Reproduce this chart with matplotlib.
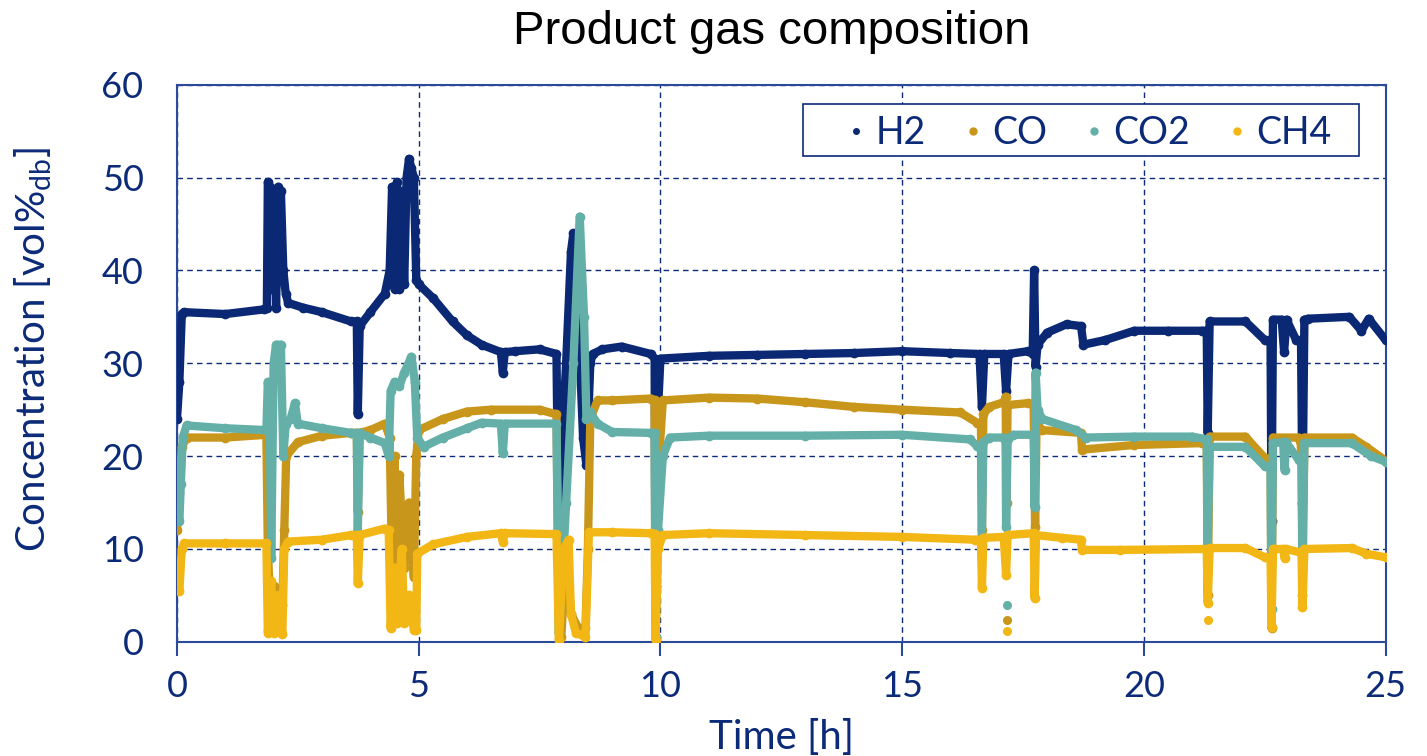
import matplotlib
matplotlib.use("Agg")
import matplotlib.pyplot as plt
from matplotlib.lines import Line2D
from matplotlib.patches import Rectangle

# ---- data (time in h, concentration in vol%db) ----
h2_t = [0.0, 0.05, 0.1, 0.15, 1.0, 1.8, 1.86, 1.88, 1.92, 1.95, 2.0, 2.05, 2.1, 2.15, 2.2, 2.25,
        2.3, 2.6, 3.0, 3.6, 3.72, 3.74, 3.78, 4.0, 4.3, 4.4, 4.45, 4.5, 4.55, 4.6, 4.65, 4.7,
        4.75, 4.8, 4.85, 4.9, 4.95, 5.0, 5.3, 5.7, 6.0, 6.3, 6.7, 6.74, 6.78, 7.0, 7.5, 7.85,
        7.9, 7.95, 8.05, 8.15, 8.2, 8.3, 8.4, 8.47, 8.55, 8.6, 8.8, 9.2, 9.8, 9.88, 9.9, 9.95,
        10.0, 11.0, 12.0, 13.0, 14.0, 15.0, 16.0, 16.6, 16.65, 16.7, 17.1, 17.15, 17.2, 17.6,
        17.7, 17.73, 17.76, 17.8, 18.0, 18.4, 18.7, 18.75, 19.2, 19.8, 20.5, 21.2, 21.3, 21.32,
        21.36, 22.1, 22.5, 22.62, 22.64, 22.67, 22.85, 22.9, 22.95, 23.15, 23.25, 23.28, 23.32,
        23.4, 24.25, 24.5, 24.65, 25.0]
h2_v = [24, 28, 35.3, 35.5, 35.3, 35.8, 36, 49.5, 49, 38, 48.5, 36, 49, 48.5, 40, 37.5,
        36.5, 36, 35.5, 34.5, 34.5, 24.5, 34, 35.5, 37.5, 40, 49, 38, 49.5, 38, 48.5, 38.5,
        50, 52, 51, 50, 39, 38.5, 37, 34.5, 33, 32, 31.2, 29, 31.2, 31.3, 31.5, 31,
        8, 20, 30, 42, 44, 35, 22, 19, 30, 31, 31.5, 31.8, 31, 30.5, 6, 25,
        30.5, 30.8, 30.9, 31, 31.1, 31.3, 31.1, 31, 25.3, 31, 31, 27, 31, 31.3,
        31, 40, 29.6, 32, 33.3, 34.2, 34, 32, 32.5, 33.5, 33.5, 33.5, 33.5, 22.5,
        34.5, 34.5, 32.5, 32.5, 13, 34.7, 34.7, 31.2, 34.7, 32.5, 32.5, 15, 34.7,
        34.8, 35, 33.5, 34.8, 32.5]

co_t = [0.0, 0.05, 0.1, 0.2, 1.0, 1.85, 1.88, 1.92, 2.0, 2.1, 2.18, 2.22, 2.26, 2.5, 3.0, 3.6,
        3.72, 3.74, 3.78, 4.0, 4.3, 4.4, 4.45, 4.5, 4.55, 4.6, 4.7, 4.8, 4.9, 4.95, 5.0, 5.5,
        6.0, 6.5, 7.5, 7.85, 7.9, 7.95, 8.05, 8.15, 8.3, 8.45, 8.5, 8.55, 8.7, 9.0, 9.8, 9.88,
        9.9, 9.95, 10.05, 11.0, 12.0, 13.0, 14.0, 15.0, 16.2, 16.55, 16.63, 16.65, 16.68, 16.8,
        17.1, 17.14, 17.16, 17.18, 17.6, 17.72, 17.75, 17.78, 17.9, 18.7, 18.72, 19.8, 21.2,
        21.3, 21.32, 21.36, 22.1, 22.5, 22.62, 22.64, 22.67, 23.2, 23.26, 23.28, 23.32, 24.3,
        24.6, 25.0]
co_v = [12, 16, 21, 22, 22, 22.3, 10, 5, 6, 5, 4, 12, 20, 21.5, 22.2, 22.5,
        22.5, 14, 22.5, 22.8, 23.5, 22, 8, 20, 7, 18, 8, 15, 7, 20, 22.8, 24,
        24.8, 25, 25, 24.5, 1, 0.5, 10, 3, 1.5, 1.5, 10, 24, 26, 26, 26.2, 26,
        0.5, 18, 26, 26.3, 26.2, 25.8, 25.3, 25, 24.7, 23.6, 23.5, 12, 24.5, 25.3,
        25.8, 26.4, 15, 25.5, 25.7, 25.5, 12.4, 23.5, 22.8, 22.5, 20.7, 21.2, 21.4,
        21.4, 5, 22.1, 22.1, 19.8, 19.6, 1.5, 22, 22, 21, 5, 22, 22,
        21, 19.5]

co2_t = [0.0, 0.05, 0.08, 0.12, 0.2, 1.0, 1.85, 1.88, 1.92, 1.95, 2.0, 2.05, 2.15, 2.2, 2.25,
         2.35, 2.44, 2.5, 3.0, 3.6, 3.72, 3.74, 3.78, 4.0, 4.3, 4.38, 4.42, 4.5, 4.6, 4.7, 4.85,
         4.92, 4.97, 5.1, 5.5, 6.0, 6.3, 6.7, 6.74, 6.78, 7.85, 7.9, 7.95, 8.05, 8.2, 8.33,
         8.42, 8.47, 8.55, 8.7, 9.0, 9.8, 9.88, 9.9, 9.95, 10.05, 10.2, 11.0, 13.0, 15.0, 16.4,
         16.55, 16.63, 16.65, 16.68, 16.8, 17.1, 17.14, 17.15, 17.18, 17.3, 17.72, 17.74, 17.76,
         17.8, 17.9, 18.6, 18.8, 19.8, 21.0, 21.3, 21.32, 21.36, 22.1, 22.5, 22.62, 22.64, 22.67,
         22.88, 22.91, 22.94, 23.2, 23.26, 23.28, 23.32, 24.3, 24.7, 25.0]
co2_v = [15, 13, 17, 22, 23.3, 23, 22.8, 28, 25, 9, 30, 32, 32, 20, 23.5,
         24, 25.7, 23.5, 23, 22.5, 22.5, 11.7, 22.5, 22, 21.4, 20, 27, 28, 27.5, 29, 30.7,
         28, 22, 21, 22, 23, 23.6, 23.5, 20.3, 23.5, 23.5, 1, 5, 15, 30, 45.8,
         35, 24, 24.7, 23.5, 22.6, 22.5, 22.5, 0.5, 12, 20, 22, 22.2, 22.2, 22.3, 21.8,
         21.1, 21, 11.3, 21.5, 22, 22, 21.5, 12.4, 21.8, 22.3, 22.3, 14.5, 29,
         25, 24, 22.8, 22, 22.1, 22.1, 21.8, 10.3, 21, 21, 18.9, 18.9, 3.5, 21.4,
         21.5, 18.5, 21.5, 19.6, 19.6, 10, 21.4, 21.4, 20, 19.4]

ch4_t = [0.0, 0.05, 0.1, 0.15, 1.0, 1.85, 1.88, 1.95, 2.0, 2.1, 2.18, 2.22, 2.3, 3.0, 3.6, 3.72,
         3.74, 3.78, 4.3, 4.38, 4.42, 4.5, 4.55, 4.65, 4.7, 4.8, 4.9, 4.95, 4.97, 5.3, 6.0,
         6.7, 6.74, 6.78, 7.85, 7.9, 8.0, 8.1, 8.15, 8.25, 8.45, 8.52, 9.0, 9.8, 9.88, 9.9,
         9.95, 10.05, 11.0, 13.0, 15.0, 16.5, 16.63, 16.65, 16.68, 17.1, 17.15, 17.18, 17.72,
         17.74, 17.77, 18.3, 18.7, 18.72, 19.5, 21.3, 21.32, 21.36, 22.1, 22.5, 22.62, 22.64,
         22.67, 22.88, 22.91, 22.94, 23.26, 23.28, 23.32, 24.3, 24.6, 25.0]
ch4_v = [7.2, 5.5, 10, 10.6, 10.6, 10.6, 1, 6.5, 1, 5, 0.8, 10, 10.8, 11, 11.5, 11.5,
         6.3, 11.5, 12.2, 12, 1.5, 8, 2, 10, 2, 5, 1.3, 1.3, 9.5, 10.5, 11.3,
         11.7, 10.8, 11.7, 11.6, 0.2, 10, 11, 3, 1, 0.5, 11.8, 11.8, 11.7, 11.6, 0.2,
         10, 11.5, 11.7, 11.5, 11.3, 11, 11, 5.8, 11.2, 11.3, 7.2, 11.5, 11.7,
         4.7, 11.5, 11.2, 11, 9.9, 9.9, 10, 4.2, 10.1, 10.1, 9.1, 9.1, 1.6,
         10, 10, 9, 10, 9.6, 3.7, 10, 10.1, 9.5, 9.1]

# isolated single readings
co_out_t, co_out_v = [17.16], [2.4]
co2_out_t, co2_out_v = [17.16], [4.0]
ch4_out_t, ch4_out_v = [17.16, 21.32], [1.2, 2.4]

names = ["H2", "CO", "CO2", "CH4"]
colors = ["#0a2873", "#c8961a", "#64b0a8", "#f2b714"]
navy = "#0b2a78"
frame = "#2b4a9a"

plt.rcParams["font.family"] = ["Lato", "DejaVu Sans"]
plt.rcParams["mathtext.default"] = "regular"

fig = plt.figure(figsize=(14.27, 7.56), dpi=100)
ax = fig.add_axes([0.124, 0.151, 0.847, 0.737])

series = [(h2_t, h2_v), (co_t, co_v), (co2_t, co2_v), (ch4_t, ch4_v)]
for (t, v), c in zip(series, colors):
    ax.plot(t, v, color=c, lw=6, marker="o", ms=6, mec=c, mfc=c,
            solid_joinstyle="round", solid_capstyle="round", zorder=3)

outliers = [([], []), (co_out_t, co_out_v), (co2_out_t, co2_out_v), (ch4_out_t, ch4_out_v)]
for (t, v), c in zip(outliers, colors):
    if t:
        ax.plot(t, v, "o", color=c, ms=5.5, zorder=3)

ax.set_xlim(0, 25)
ax.set_ylim(0, 60)
ax.set_xticks([0, 5, 10, 15, 20, 25])
ax.set_yticks([0, 10, 20, 30, 40, 50, 60])
ax.grid(True, color=navy, linestyle=(0, (4, 3)), linewidth=1.0)
ax.set_axisbelow(True)

for s in ax.spines.values():
    s.set_color(frame)
    s.set_linewidth(1.5)

ax.tick_params(axis="x", direction="out", length=10, width=1.5, color=frame,
               labelsize=26, labelcolor=navy, pad=10)
ax.tick_params(axis="y", length=0, labelsize=26, labelcolor=navy, pad=24)

ax.set_xlabel("Time [h]", fontsize=29, color=navy, labelpad=12)
ax.set_ylabel("Concentration [vol%$_{db}$]", fontsize=29, color=navy, labelpad=34)
ax.yaxis.label.set_y(0.524)
fig.suptitle("Product gas composition", x=0.541, y=0.987, fontsize=34,
             family="Liberation Sans", color="black")

# legend box
ax.add_patch(Rectangle((0.518, 0.8726), 0.46, 0.0934, transform=ax.transAxes,
                       facecolor="white", edgecolor=navy, lw=1.2, zorder=5))
handles = [Line2D([], [], linestyle="none", marker="o", ms=5 if n != "H2" else 4,
                  color=c) for n, c in zip(names, colors)]
leg = ax.legend(handles, names, loc="center", ncol=4, fontsize=27,
                bbox_to_anchor=(0.754, 0.913), frameon=False,
                handletextpad=0.22, columnspacing=0.95, borderpad=0.0,
                handlelength=0.6)
leg.set_zorder(6)
for txt in leg.get_texts():
    txt.set_color(navy)

fig.savefig("out.png", dpi=100)
